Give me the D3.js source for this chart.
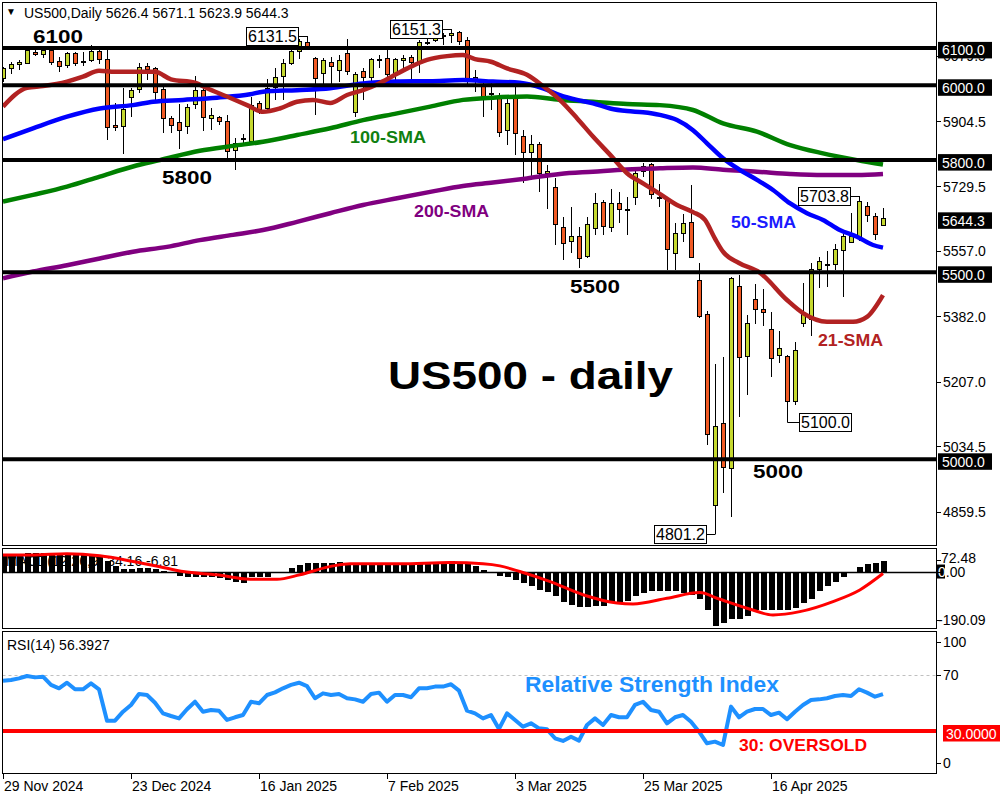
<!DOCTYPE html>
<html><head><meta charset="utf-8">
<script src="https://cdn.jsdelivr.net/npm/d3@7/dist/d3.min.js"></script>
<style>
body{margin:0;background:#fff}
svg{display:block}
text{font-family:"Liberation Sans",Arial,sans-serif}
</style>
</head><body>
<svg id="c" width="1000" height="800"></svg>
<script>
// ---------- DATA ----------
const opens=[6019,6045,6056,6059,6089,6083,6094,6063,6054,6086,
6064,6066,6090,6068,5893,5889,5967,5989,6050,6045,
5989,5910,5900,5891,5949,5987,5912,5914,5903,5827,
5856,5849,5952,5939,5995,6023,6059,6090,6114,6072,
6032,6062,6039,6084,5927,6038,6021,6066,6072,6028,
6065,6075,6059,6113,6121,6134,6134,6141,6119,6021,
6001,5977,5970,5879,5970,5864,5820,5843,5763,5727,
5620,5582,5597,5542,5618,5686,5619,5685,5669,5701,
5769,5787,5699,5695,5549,5604,5633,5478,5388,4876,
5096,4976,5462,5274,5426,5401,5348,5277,5274,5154,
5362,5375,5508,5519,5521,5557,5581,5591,5675,5649,5626.4];
const highs=[6050,6063,6068,6100,6094,6102,6105,6075,6090,6090,
6090,6108,6094,6094,5952,5993,5993,6059,6060,6050,
5998,5918,5949,5949,6025,5993,5939,5919,5921,5858,
5871,5969,5958,6016,6045,6070,6103,6123,6131.5,6076,
6073,6076,6081,6123,6036,6045,6072,6081,6094,6073,
6081,6081,6121,6123,6135,6140,6151.3,6144,6130,6041,
6010,6010,5979,5965,5996,5880,5867,5849,5787,5751,
5649,5674,5622,5647,5713,5693,5722,5714,5702,5775,
5792,5791,5736,5696,5631,5656,5733,5526,5396,5255,
5274,5488,5493,5386,5469,5456,5395,5343,5278,5314,
5472,5526,5542,5558,5576,5602,5658,5703.8,5689,5658,5671.1];
const lows=[6010,6030,6041,6057,6078,6073,6054,6036,6045,6051,
6051,6063,6058,5854,5878,5816,5915,5980,6014,5961,
5873,5873,5830,5870,5936,5878,5881,5893,5805,5774,
5840,5846,5923,5934,5961,5961,6054,6070,6094,5921,
5998,6003,6010,6028,5914,5961,6010,6047,6014,6014,
6046,6014,6034,6107,6115,6107,6112,6107,6001,5983,
5914,5934,5863,5840,5814,5740,5747,5716,5668,5573,
5533,5551,5511,5537,5600,5600,5609,5633,5600,5680,
5755,5696,5675,5505,5506,5580,5537,5377,5038,4801.2,
4911,4845,5114,5172,5361,5356,5221,5257,5100,5145,
5353,5330,5457,5462,5506,5435,5578,5585,5635,5586,5623.9];
const closes=[6045,6056,6062,6092,6083,6094,6062,6050,6086,6059,
6062,6090,6068,5887,5887,5936,5985,6047,6041,5981,
5910,5893,5878,5941,5987,5913,5918,5903,5822,5845,
5857,5947,5934,5992,6021,6059,6090,6117,6103,6019,
6065,6050,6065,6036,6030,6021,6068,6070,6029,6069,
6072,6062,6114,6115,6128,6130,6139,6117,6014,6013,
5970,5975,5873,5952,5870,5820,5843,5763,5770,5628,
5578,5595,5537,5628,5683,5622,5683,5667,5668,5765,
5782,5709,5698,5560,5604,5631,5540,5381,5067,5087,
4979,5484,5273,5364,5401,5393,5270,5297,5154,5290,
5390,5508,5528,5521,5561,5597,5597,5689,5653,5600,5644.3];

// moving averages: [bar index, value]
const sma21=[[0,5943],[3,5993],[5,5998],[8,6010],[10,6023],[12,6039],[14,6036],[19,6036],[21,6016],[24,6007],[25.5,5992],[28,5970],[30.5,5947],[32.5,5929],[34.6,5938],[36.75,5956],[38.75,5961],[40.9,5953],[43,5974],[45,5987],[47,6005],[49,6028],[51,6050],[53,6068],[55.5,6078],[57.5,6081],[59,6070],[61,6063],[63,6045],[65.5,6028],[67.5,5998],[69.6,5961],[71.75,5912],[73.75,5863],[75.9,5814],[78,5765],[80,5738],[82,5711],[84.25,5680],[86.25,5661],[87.75,5640],[89,5590],[90,5555],[92,5525],[94.6,5499],[98,5426],[100,5391],[103,5368],[106.25,5368],[108,5381],[110,5439]];
const sma50=[[0,5856],[3.75,5885],[8,5916],[12.1,5938],[16.25,5947],[18.75,5956],[22.5,5961],[26.75,5967],[30.9,5976],[32.5,5983],[36.75,5987],[40.9,5992],[45,6005],[49.25,6010],[53.4,6011],[57.5,6014],[61.25,6010],[64.6,6007],[67.5,5992],[69.6,5974],[71.75,5961],[73.75,5952],[75.9,5938],[78,5931],[80,5928],[82.1,5921],[84.25,5907],[86.25,5880],[88,5845],[90,5805],[92.1,5774],[94.25,5747],[96.25,5720],[98.4,5684],[100.5,5658],[102.5,5640],[104.6,5613],[106.75,5595],[108.75,5573],[110,5566]];
const sma100=[[0,5689],[3.75,5707],[8,5729],[12.1,5756],[16.25,5783],[19.6,5800],[24.6,5825],[28.75,5838],[32.5,5849],[36.75,5867],[40.9,5885],[45,5907],[49.25,5925],[53.4,5943],[57.5,5961],[61.25,5967],[65.5,5970],[69.6,5961],[73.75,5956],[78,5950],[82.1,5947],[86.25,5934],[90,5898],[94.25,5876],[98.4,5840],[102.5,5818],[106.75,5800],[110,5788]];
const sma200=[[0,5484],[3.75,5502],[8,5519],[12.1,5537],[16.25,5555],[20.5,5568],[24.6,5586],[28.75,5600],[32.5,5613],[36.75,5635],[40.9,5658],[45,5680],[49.25,5698],[53.4,5715],[57.5,5731],[61.25,5740],[65.5,5751],[69.6,5763],[73.75,5769],[78,5775],[82.1,5778],[86.25,5780],[90,5774],[94.25,5769],[98.4,5763],[102.5,5760],[106.75,5760],[110,5763]];

const macdHist=[53,56,60,62,62,62,63,63,60,58,57,55,50,35,17,8,8,11,11,8,3,
-5,-14,-19,-17,-17,-19,-22,-30,-34,-37,-20,-20,-17,-5,0,
11,22,28,28,28,28,32,26,22,24,24,24,24,24,25,25,25,28,32,32,36,32,26,17,6,0,-14,
-17,-30,-39,-48,-62,-69,-84,-101,-112,-120,-120,-115,-115,-106,-106,-98,-82,-71,-67,-67,-67,-67,-73,-78,-93,-131,-183,-172,-160,-160,-149,-131,-129,-129,-129,-131,-123,-106,-93,-67,-48,-34,-17,-5,15,26,30,34.16];
const macdSignal=[[0,56],[3.75,56],[8,60],[12.1,53],[16.25,34],[20.5,11],[22.5,0],[26.75,-11],[30.9,-26],[34.25,-26],[37.1,-11],[41.25,19],[43.4,26],[49.6,26],[55.9,30],[60,26],[62.1,19],[64.6,0],[68.4,-34],[72.5,-78],[76.75,-106],[78.75,-109],[83,-90],[87.1,-71],[89.25,-90],[93.4,-127],[96.25,-146],[99.6,-135],[103.75,-101],[107.1,-62],[110,-6.81]];

const rsi=[65.9,66.4,67.6,69.3,68.3,68.8,62.9,60.5,64.5,59.8,59.8,64,59.8,
37.4,37.4,43.8,48.6,56.4,55.7,50.2,42.6,40.7,39,45.5,50.9,43.8,45,44.5,37.9,39.8,41.4,
50.9,49.8,55.7,57.6,60.5,62.9,64.5,62.1,53.4,56.9,55.7,56.4,53.4,52.6,50.9,56.4,57.4,50.9,55.7,55.7,54.1,60.5,60.5,61.7,61.7,63.4,58.8,44.5,42.6,39,41.4,31.5,
42.6,37.9,33.1,35.5,31.9,31.2,24.8,22.9,25.9,23.1,34.3,39,34.3,41.4,39.8,39.8,48.6,50.9,45,43.8,35.5,39.8,41.4,36.6,29.5,21.2,22.4,20,47.4,39.8,43.8,45.7,45.7,41.4,43.1,38.4,43.8,48.6,52.1,52.6,53.4,55,55.7,55,59.8,57.4,54.5,56.3927];

const levels=[6100,6000,5800,5500,5000];
const levelNames=["6100","5800","5500","5000"];
const priceTicks=[6079.5,5904.5,5729.5,5557.0,5382.0,5207.0,5034.5,4859.5];
const dateTickIdx=[0,16,32,48,64,80,96];
const dateTickLabels=["29 Nov 2024","23 Dec 2024","16 Jan 2025","7 Feb 2025","3 Mar 2025","25 Mar 2025","16 Apr 2025"];
const annotIdx=[38,56,107,89,98];
const annotPrice=[6131.5,6151.3,5703.8,4801.2,5100.0];
const macdTicks=[72.48,0,-190.09];
const rsiTicks=[100,70,0];
const rsiOversold=30, rsiOverbought=70;

// ---------- SCALES ----------
const svg=d3.select("#c");
const L=2.5, R=936.5;
const x=d3.scaleLinear().domain([0,110]).range([3,883]);
const y=d3.scaleLinear().domain([5000,6000]).range([459.3,85.3]);
const yM=d3.scaleLinear().domain([-190.09,72.48]).range([628,550]);
const yR=d3.scaleLinear().domain([0,100]).range([773,633]);
const BULL="#c5d82f", BEAR="#f15a24";

svg.append("rect").attr("width",1000).attr("height",800).attr("fill","#fff");
const defs=svg.append("defs");
defs.append("clipPath").attr("id","cm").append("rect").attr("x",3).attr("y",3).attr("width",933).attr("height",542);
defs.append("clipPath").attr("id","cmacd").append("rect").attr("x",3).attr("y",549).attr("width",933).attr("height",79);
defs.append("clipPath").attr("id","crsi").append("rect").attr("x",3).attr("y",632).attr("width",933).attr("height",141);

// ---------- MAIN PANE ----------
const main=svg.append("g").attr("clip-path","url(#cm)");
const idx=d3.range(opens.length);
const cg=main.append("g").attr("shape-rendering","crispEdges");
cg.selectAll("line.w").data(idx).join("line")
  .attr("x1",i=>Math.round(x(i))+0.5).attr("x2",i=>Math.round(x(i))+0.5)
  .attr("y1",i=>y(highs[i])).attr("y2",i=>y(lows[i])).attr("stroke","#000");
cg.selectAll("rect.b").data(idx).join("rect")
  .attr("x",i=>Math.round(x(i))-1.5).attr("width",4)
  .attr("y",i=>y(Math.max(opens[i],closes[i])))
  .attr("height",i=>Math.max(1,Math.abs(y(opens[i])-y(closes[i]))))
  .attr("fill",i=>closes[i]>=opens[i]?BULL:BEAR).attr("stroke","#000");

const ln=d3.line().x(d=>x(d[0])).y(d=>y(d[1])).curve(d3.curveMonotoneX);
[[sma200,"#800080"],[sma100,"#008000"],[sma50,"#0000ff"],[sma21,"#b22222"]].forEach(([d,c])=>{
  main.append("path").attr("d",ln(d)).attr("fill","none").attr("stroke",c).attr("stroke-width",4.5).attr("stroke-linejoin","round");
});
main.selectAll("line.lv").data(levels).join("line")
  .attr("x1",L).attr("x2",R).attr("y1",d=>y(d)).attr("y2",d=>y(d)).attr("stroke","#000").attr("stroke-width",4);

// big level labels
const bold=(t,xx,yy,size,len,col)=>svg.append("text").attr("x",xx).attr("y",yy).attr("font-size",size).attr("font-weight","bold")
  .attr("fill",col).attr("textLength",len).attr("lengthAdjust","spacingAndGlyphs").text(t);
bold(levelNames[0],33,43,19,50,"#000");
bold(levelNames[1],162,184,19,50,"#000");
bold(levelNames[2],570,293,19,50,"#000");
bold(levelNames[3],753,478,19,50,"#000");
bold("100-SMA",350,143,16,76,"#108010");
bold("200-SMA",414,217,16,75,"#800080");
bold("50-SMA",731,228,16,65,"#1a1aff");
bold("21-SMA",818,346,16,65,"#b22222");
bold("US500 - daily",388,389,38,285,"#000");

// annotation boxes
annotIdx.forEach((i,k)=>{
  const p=annotPrice[k], cx=Math.round(x(i))+0.5, cy=y(p);
  const left = (k===4) ? false : true;
  const bw=52, bh=18;
  const bx = left ? cx-10-bw : cx+11.5;
  const g=svg.append("g");
  g.append("line").attr("x1",left?bx+bw:cx).attr("x2",left?cx:bx).attr("y1",Math.round(cy)+0.5).attr("y2",Math.round(cy)+0.5).attr("stroke","#000");
  if(k===4){ g.append("line").attr("x1",cx).attr("x2",cx).attr("y1",y(closes[i])).attr("y2",Math.round(cy)+0.5).attr("stroke","#000"); }
  g.append("rect").attr("x",Math.round(bx)+0.5).attr("y",Math.round(cy-bh/2)+0.5).attr("width",bw).attr("height",bh).attr("fill","#fff").attr("stroke","#000");
  g.append("text").attr("x",Math.round(bx)+bw/2+0.5).attr("y",cy+6).attr("text-anchor","middle").attr("font-size",16).attr("fill","#000").text(p.toFixed(1));
});

// header
svg.append("text").attr("x",6).attr("y",15).attr("font-size",10).text("▼");
svg.append("text").attr("x",24).attr("y",18).attr("font-size",14).attr("fill","#000")
  .text(`US500,Daily  ${opens[110]} ${highs[110]} ${lows[110]} ${closes[110]}`);

// right axis main
svg.selectAll("text.pt").data(priceTicks).join("text").attr("x",943).attr("y",d=>y(d)+5.5).attr("font-size",14).text(d=>d.toFixed(1));
svg.selectAll("line.pt").data(priceTicks).join("line").attr("x1",937).attr("x2",941).attr("y1",d=>Math.round(y(d))+0.5).attr("y2",d=>Math.round(y(d))+0.5).attr("stroke","#000");
const blackLab=(p)=>{
  svg.append("rect").attr("x",938).attr("y",y(p)-6).attr("width",54).attr("height",16.5).attr("fill","#000");
  svg.append("text").attr("x",942).attr("y",y(p)+7.5).attr("font-size",14).attr("fill","#fff").text(p.toFixed(1));
};
levels.forEach(blackLab);
blackLab(closes[110]);

// ---------- MACD ----------
const mg=svg.append("g").attr("clip-path","url(#cmacd)");
mg.append("text").attr("x",6).attr("y",566).attr("font-size",14).attr("fill","#000").text("MACD(12,26,9) 34.16 -6.81");
mg.selectAll("rect").data(idx).join("rect").attr("shape-rendering","crispEdges")
  .attr("x",i=>Math.round(x(i))-2.5).attr("width",6)
  .attr("y",i=>Math.min(yM(0),yM(macdHist[i]))).attr("height",i=>Math.abs(yM(macdHist[i])-yM(0)))
  .attr("fill","#000");
mg.append("line").attr("x1",L).attr("x2",R).attr("y1",Math.round(yM(0))+0.5).attr("y2",Math.round(yM(0))+0.5).attr("stroke","#000").attr("stroke-width",1.5);
const lm=d3.line().x(d=>x(d[0])).y(d=>yM(d[1])).curve(d3.curveMonotoneX);
mg.append("path").attr("d",lm(macdSignal)).attr("fill","none").attr("stroke","#ff0000").attr("stroke-width",3);
svg.append("rect").attr("x",937).attr("y",yM(0)-7).attr("width",8).attr("height",14).attr("fill","#000");
svg.append("text").attr("x",941).attr("y",yM(macdTicks[0])+13).attr("font-size",14).text(macdTicks[0].toFixed(2));
svg.append("text").attr("x",938).attr("y",yM(0)+5.5).attr("font-size",14).html('<tspan fill="#fff">0</tspan>.00');
svg.append("text").attr("x",938).attr("y",yM(macdTicks[2])-3).attr("font-size",14).text(macdTicks[2].toFixed(2));
svg.selectAll("line.mt").data(macdTicks).join("line").attr("x1",937).attr("x2",941)
  .attr("y1",(d,k)=>[560,572,620][k]+0.5).attr("y2",(d,k)=>[560,572,620][k]+0.5).attr("stroke","#000");

// ---------- RSI ----------
const rg=svg.append("g").attr("clip-path","url(#crsi)");
rg.append("line").attr("x1",L).attr("x2",R).attr("y1",Math.round(yR(rsiOverbought))+0.5).attr("y2",Math.round(yR(rsiOverbought))+0.5)
  .attr("stroke","#c0c0c0").attr("stroke-dasharray","3,3");
const lr=d3.line().x((d,i)=>x(i)).y(d=>yR(d));
rg.append("path").attr("d",lr(rsi)).attr("fill","none").attr("stroke","#1e90ff").attr("stroke-width",4).attr("stroke-linejoin","round");
svg.append("line").attr("x1",L).attr("x2",R).attr("y1",yR(rsiOversold)).attr("y2",yR(rsiOversold)).attr("stroke","#ff0000").attr("stroke-width",4);
svg.append("text").attr("x",7).attr("y",650).attr("font-size",14).attr("fill","#000").text("RSI(14) "+rsi[110].toFixed(4));
bold("Relative Strength Index",525,692,22,254,"#1e90ff");
bold("30: OVERSOLD",739,751,17,128,"#ff0000");
svg.selectAll("text.rt").data(rsiTicks).join("text").attr("x",943)
  .attr("y",(d,k)=>[647,680,768][k]).attr("font-size",14).text(d=>d);
svg.selectAll("line.rt").data(rsiTicks).join("line").attr("x1",937).attr("x2",941)
  .attr("y1",(d,k)=>[642,675,763][k]+0.5).attr("y2",(d,k)=>[642,675,763][k]+0.5).attr("stroke","#000");
svg.append("rect").attr("x",943).attr("y",yR(rsiOversold)-6).attr("width",57).attr("height",16.5).attr("fill","#ff0000");
svg.append("text").attr("x",946).attr("y",yR(rsiOversold)+7.5).attr("font-size",14).attr("fill","#fff").text(rsiOversold.toFixed(4));

// ---------- FRAMES ----------
[[2.5,545.5],[548.5,628.5],[631.5,773.5]].forEach(([t,b])=>{
  svg.append("rect").attr("x",L).attr("y",t).attr("width",R-L).attr("height",b-t).attr("fill","none").attr("stroke","#000");
});

// ---------- X AXIS ----------
svg.selectAll("line.xt").data(dateTickIdx).join("line")
  .attr("x1",d=>Math.round(x(d))+0.5).attr("x2",d=>Math.round(x(d))+0.5).attr("y1",774).attr("y2",779).attr("stroke","#000");
svg.selectAll("text.xt").data(dateTickIdx).join("text")
  .attr("x",d=>x(d)+1).attr("y",791).attr("font-size",14).text((d,k)=>dateTickLabels[k]);
</script>
</body></html>
